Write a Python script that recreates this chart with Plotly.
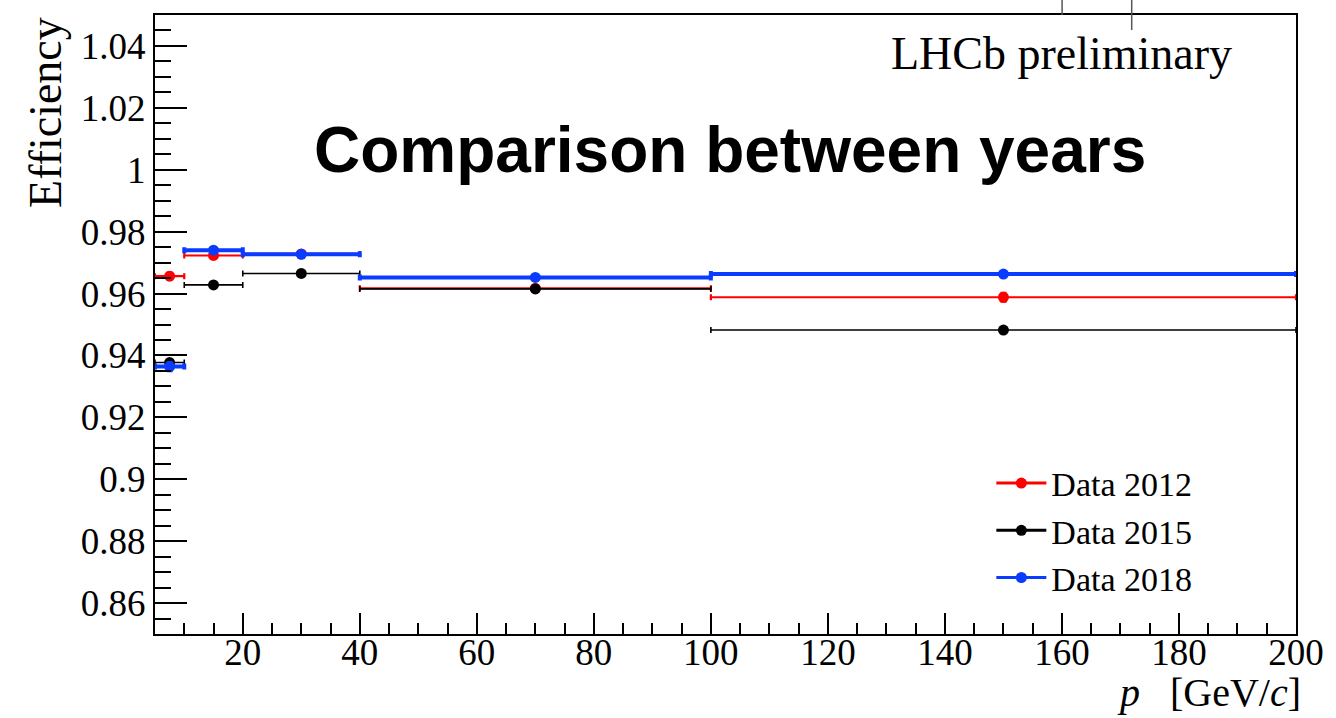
import plotly.graph_objects as go

bin_centers = [7.5, 15, 30, 70, 150]
bin_half_widths = [2.5, 5, 10, 30, 50]

eff_2012 = [0.9656, 0.9723, 0.9728, 0.9617, 0.9588]
err_2012 = [0.0012, 0.0006, 0.0005, 0.0005, 0.0014]
eff_2015 = [0.9377, 0.9628, 0.9665, 0.9615, 0.9482]
err_2015 = [0.0008, 0.0004, 0.0004, 0.0003, 0.0004]
eff_2018 = [0.9364, 0.9740, 0.9727, 0.9652, 0.9663]
err_2018 = [0.0012, 0.0005, 0.0004, 0.0003, 0.0004]

series = [
    ("Data 2012", eff_2012, err_2012, "#ff0000", 2.2),
    ("Data 2015", eff_2015, err_2015, "#000000", 1.6),
    ("Data 2018", eff_2018, err_2018, "#0a3cff", 4.0),
]

fig = go.Figure()
for name, vals, errs, col, lw in series:
    fig.add_trace(go.Scatter(
        x=bin_centers, y=vals, mode="markers", showlegend=False,
        marker=dict(color=col, size=11, symbol="circle"),
        error_x=dict(type="data", array=bin_half_widths, color=col, thickness=lw, width=3),
        error_y=dict(type="data", array=errs, color=col, thickness=lw, width=3),
    ))
for name, vals, errs, col, lw in series:
    fig.add_trace(go.Scatter(
        x=[None], y=[None], mode="lines+markers", name=name,
        line=dict(color=col, width=3), marker=dict(color=col, size=11),
    ))

serif = "Liberation Serif"
fig.update_layout(
    width=1336, height=718,
    margin=dict(l=155, r=32, t=15, b=84),
    paper_bgcolor="white", plot_bgcolor="white",
    showlegend=True,
    legend=dict(x=0.733, y=0.29, xanchor="left", yanchor="top", itemwidth=50,
                font=dict(family=serif, size=34, color="black"),
                bgcolor="rgba(0,0,0,0)", tracegroupgap=0),
    xaxis=dict(range=[5, 200], tick0=0, dtick=20, ticks="inside", ticklen=21, tickwidth=2,
               tickcolor="black", showline=True, linecolor="black", linewidth=2, mirror=True,
               showgrid=False, zeroline=False, ticklabelstandoff=-15,
               tickfont=dict(family=serif, size=37, color="black"),
               minor=dict(dtick=5, tick0=0, ticks="inside", ticklen=11, tickwidth=2, tickcolor="black", showgrid=False)),
    yaxis=dict(range=[0.85, 1.05], tick0=0.86, dtick=0.02, ticks="inside", ticklen=32, tickwidth=2,
               tickcolor="black", showline=True, linecolor="black", linewidth=2, mirror=True,
               showgrid=False, zeroline=False,
               tickfont=dict(family=serif, size=37, color="black"),
               minor=dict(dtick=0.005, tick0=0.85, ticks="inside", ticklen=16, tickwidth=2, tickcolor="black", showgrid=False)),
    shapes=[
        dict(type="line", xref="paper", yref="paper", x0=0.795, x1=0.795, y0=1.0, y1=1.0242,
             line=dict(color="#555555", width=1.5)),
        dict(type="line", xref="paper", yref="paper", x0=0.856, x1=0.856, y0=0.9758, y1=1.0242,
             line=dict(color="#555555", width=1.5)),
    ],
    annotations=[
        dict(text="Comparison between years", xref="paper", yref="paper", x=0.504, y=0.782,
             xanchor="center", yanchor="middle", showarrow=False,
             font=dict(family="Liberation Sans", size=64, color="black", weight="bold")),
        dict(text="LHCb preliminary", xref="paper", yref="paper", x=0.942, y=0.9386, xshift=4,
             xanchor="right", yanchor="middle", showarrow=False,
             font=dict(family=serif, size=46, color="black")),
        dict(text="<i>p</i>&nbsp;&nbsp;&nbsp;[GeV/<i>c</i>]", xref="paper", yref="paper", x=1.0, y=-0.132, xshift=6,
             xanchor="right", yanchor="bottom", showarrow=False, borderpad=0,
             font=dict(family=serif, size=40, color="black")),
        dict(text="Efficiency", xref="paper", yref="paper", x=-0.096, y=1.0, textangle=-90,
             xanchor="center", yanchor="top", showarrow=False,
             font=dict(family=serif, size=46, color="black")),
    ],
)

fig.write_html("out.html")
